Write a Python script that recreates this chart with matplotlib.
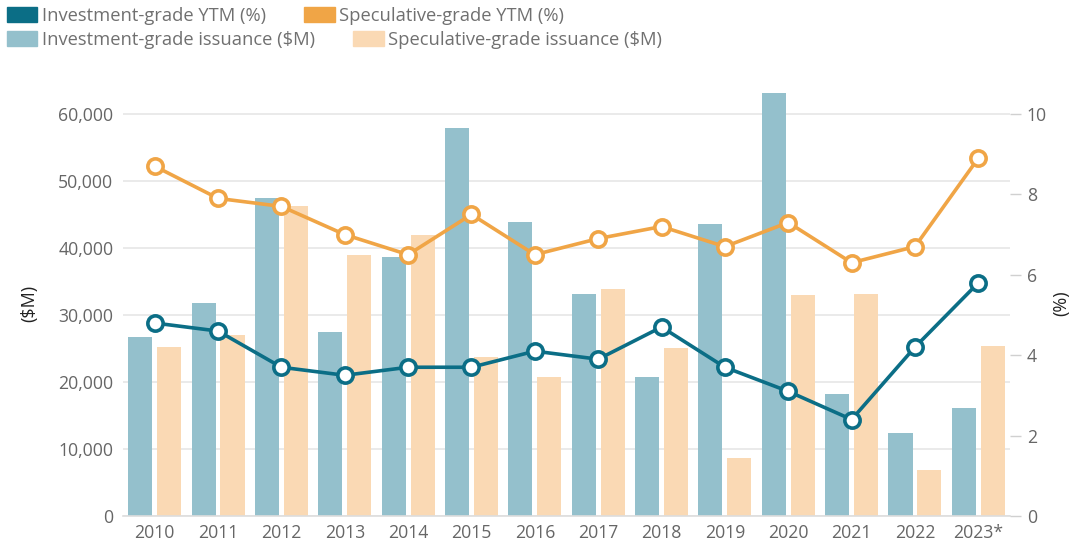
import matplotlib
matplotlib.use("Agg")
import matplotlib.pyplot as plt
import numpy as np
from matplotlib.patches import Patch

plt.rcParams['font.family'] = ['Open Sans', 'DejaVu Sans']

years = ["2010", "2011", "2012", "2013", "2014", "2015", "2016", "2017",
         "2018", "2019", "2020", "2021", "2022", "2023*"]
ig_issuance = [26700, 31800, 47500, 27500, 38700, 57900, 43900, 33200,
               20700, 43600, 63200, 18200, 12400, 16100]
sg_issuance = [25200, 27000, 46300, 39000, 42000, 23800, 20700, 33900,
               25100, 8700, 33000, 33100, 6900, 25400]
ig_ytm = [4.8, 4.6, 3.7, 3.5, 3.7, 3.7, 4.1, 3.9, 4.7, 3.7, 3.1, 2.4, 4.2, 5.8]
sg_ytm = [8.7, 7.9, 7.7, 7.0, 6.5, 7.5, 6.5, 6.9, 7.2, 6.7, 7.3, 6.3, 6.7, 8.9]

c_ig_line = "#0b6e86"
c_sg_line = "#f0a546"
c_ig_bar = "#94c0cc"
c_sg_bar = "#fad9b4"
grid_c = "#e6e6e6"
tick_c = "#666666"

fig = plt.figure(figsize=(10.73, 5.46), dpi=100)
ax = fig.add_axes([123/1073, 1-516/546, (1010-123)/1073, (516-90.5)/546])
ax2 = ax.twinx()

x = np.arange(len(years))
w = 0.38
off = 0.228
ax.bar(x - off, ig_issuance, w, color=c_ig_bar, zorder=2)
ax.bar(x + off, sg_issuance, w, color=c_sg_bar, zorder=2)

ax.set_ylim(0, 63500)
ax.set_xlim(-0.5, len(years) - 0.5)
ax.set_yticks(np.arange(0, 60001, 10000))
ax.set_yticklabels([f"{v:,}" for v in range(0, 60001, 10000)])
ax.yaxis.grid(True, color=grid_c, linewidth=1.2, zorder=0)
ax.set_axisbelow(True)
ax.set_xticks(x)
ax.set_xticklabels(years)
ax.tick_params(axis='both', length=0, labelsize=12.7, colors=tick_c, pad=7)
ax.tick_params(axis='x', pad=6)
for s in ['top', 'right', 'left']:
    ax.spines[s].set_visible(False)
ax.spines['bottom'].set_color("#dddddd")
ax.spines['bottom'].set_linewidth(1.2)
ax.set_ylabel("($M)", fontsize=13, color="#222222", rotation=90,
              va='center', ha='center', rotation_mode='anchor')
ax.yaxis.set_label_coords((29-123)/887, 0.5)

ax2.plot(x, ig_ytm, color=c_ig_line, linewidth=2.6, marker='o', markersize=11,
         markerfacecolor='white', markeredgecolor=c_ig_line, markeredgewidth=2.6, zorder=5)
ax2.plot(x, sg_ytm, color=c_sg_line, linewidth=2.6, marker='o', markersize=11,
         markerfacecolor='white', markeredgecolor=c_sg_line, markeredgewidth=2.6, zorder=5)
ax2.set_ylim(0, 63500/6000)
ax2.set_yticks([0, 2, 4, 6, 8, 10])
ax2.tick_params(axis='y', length=8, width=1, color="#d0d0d0", labelsize=12.7,
                labelcolor=tick_c, pad=4)
for s in ['top', 'right', 'left', 'bottom']:
    ax2.spines[s].set_visible(False)
ax2.set_ylabel("(%)", fontsize=13, color="#222222", rotation=90,
               va='center', ha='center', rotation_mode='anchor')
ax2.yaxis.set_label_coords((1061-123)/887, 0.5)

leg_kw = dict(frameon=False, fontsize=13.2, handlelength=1.65, handleheight=0.9,
              handletextpad=0.25, columnspacing=2.1, ncol=2, borderaxespad=0,
              labelcolor="#707070", borderpad=0)
l1 = fig.legend(handles=[Patch(color=c_ig_line, label="Investment-grade YTM (%)"),
                         Patch(color=c_sg_line, label="Speculative-grade YTM (%)")],
                loc='upper left', bbox_to_anchor=(7/1073, 1-7/546), **leg_kw)
l2 = fig.legend(handles=[Patch(color=c_ig_bar, label="Investment-grade issuance ($M)"),
                         Patch(color=c_sg_bar, label="Speculative-grade issuance ($M)")],
                loc='upper left', bbox_to_anchor=(7/1073, 1-31/546), **leg_kw)

fig.savefig("out.png", dpi=100)
